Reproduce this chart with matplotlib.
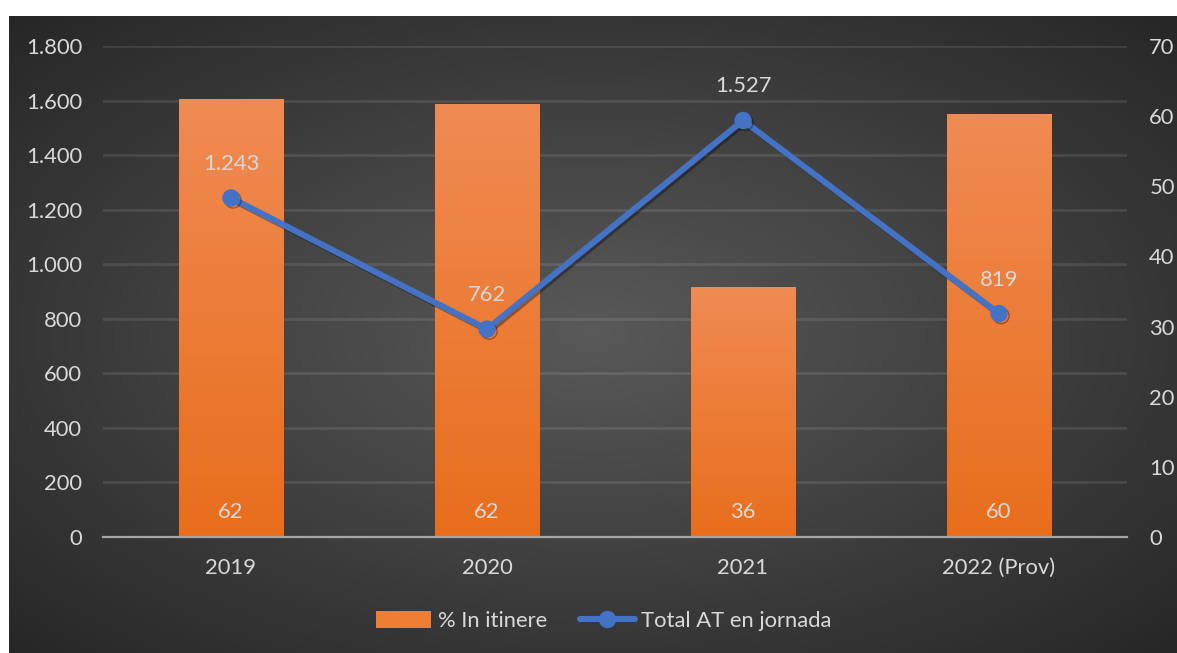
"""Combo chart: % in itinere (bars, right axis) + total AT en jornada (line, left axis)."""
import numpy as np
import matplotlib
matplotlib.use("Agg")
import matplotlib.pyplot as plt
import matplotlib.patheffects as pe
from matplotlib.lines import Line2D
from matplotlib.patches import Patch

FS = 15.8
plt.rcParams.update({
    "font.family": ["Lato", "DejaVu Sans"],
    "font.size": FS,
})

# ---- data ----
years = ["2019", "2020", "2021", "2022 (Prov)"]
pct_itinere = [62.4, 61.7, 35.6, 60.3]
total_at = [1243, 762, 1527, 819]
left_ticks = [0, 200, 400, 600, 800, 1000, 1200, 1400, 1600, 1800]
right_ticks = [0, 10, 20, 30, 40, 50, 60, 70]

TXT = "#D9D9D9"
BLUE = "#4472C4"
W, H = 1177, 653


def fmt(v):
    return f"{v:,}".replace(",", ".")


fig = plt.figure(figsize=(W / 100, H / 100), dpi=100, facecolor="white")

# background panel with radial gradient
bg = fig.add_axes([9 / W, 0, 1 - 9 / W, 1 - 16 / H])
yy, xx = np.mgrid[0:1:300j, 0:1:500j]
r = np.sqrt(((xx - 0.5) / 0.75) ** 2 + ((yy - 0.5) / 0.75) ** 2)
r = np.clip(r / 0.95, 0, 1)
shade = 0.35 - (0.35 - 0.15) * r
bg.imshow(np.dstack([shade] * 3), extent=[0, 1, 0, 1], aspect="auto", origin="lower")
bg.set_axis_off()

# bars on the bottom axes (right scale)
ax = fig.add_axes([103 / W, 1 - 537 / H, (1127 - 103) / W, (537 - 46) / H])
ax.patch.set_visible(False)
ax2 = ax.twinx()
ax2.patch.set_visible(False)

x = np.arange(len(years))
bw = 0.41
grad = np.linspace(0, 1, 256).reshape(-1, 1)
c_bot = np.array([0xE8, 0x6E, 0x1C]) / 255
c_top = np.array([0xF0, 0x8B, 0x53]) / 255
img = c_bot + grad[..., None] * (c_top - c_bot)
img = img.reshape(256, 1, 3)

for i, v in enumerate(pct_itinere):
    ax.imshow(img, extent=[x[i] - bw / 2, x[i] + bw / 2, 0, v],
              aspect="auto", origin="lower", zorder=2)
    ax.annotate(f"{v:.0f}", (x[i], 0), xytext=(0, 18), textcoords="offset points",
                ha="center", va="center", color=TXT, fontsize=FS, zorder=3)

for g in left_ticks[1:]:
    ax.axhline(g / left_ticks[-1] * right_ticks[-1], color="white",
               alpha=0.1, lw=2, zorder=1)

ax.set_xlim(-0.5, len(years) - 0.5)
ax.set_ylim(0, right_ticks[-1])
ax.set_yticks(right_ticks)
ax.yaxis.tick_right()
ax.set_xticks(x)
ax.set_xticklabels(years)
ax.tick_params(axis="x", length=0, pad=15, colors=TXT)
ax.tick_params(axis="y", length=0, pad=16, colors=TXT)
for s in ["top", "left", "right"]:
    ax.spines[s].set_visible(False)
ax.spines["bottom"].set_color("#A6A6A6")
ax.spines["bottom"].set_linewidth(1.6)
ax.spines["bottom"].set_zorder(4)

# line on the twin axes (left scale)
ax2.plot(x, total_at, color=BLUE, lw=4.4, marker="o", ms=11.5,
         solid_capstyle="round", zorder=5,
         path_effects=[pe.SimpleLineShadow(offset=(1.5, -1.5), alpha=0.35),
                       pe.Normal()])
for i, v in enumerate(total_at):
    ax2.annotate(fmt(v), (x[i], v), xytext=(0, 24.5), textcoords="offset points",
                 ha="center", va="center", color=TXT, fontsize=FS)
ax2.set_ylim(0, left_ticks[-1])
ax2.set_yticks(left_ticks)
ax2.set_yticklabels([fmt(t) for t in left_ticks])
ax2.yaxis.tick_left()
ax2.tick_params(axis="y", length=0, pad=15, colors=TXT)
for s in ax2.spines.values():
    s.set_visible(False)

handles = [
    Patch(facecolor="#F07E32", edgecolor="none", label="% In itinere"),
    Line2D([], [], color=BLUE, lw=4.4, marker="o", ms=11.5,
           solid_capstyle="round", label="Total AT en jornada"),
]
fig.legend(handles=handles, loc="center", bbox_to_anchor=(604 / W, 1 - 621 / H),
           ncol=2, frameon=False, labelcolor=TXT, fontsize=FS,
           handlelength=2.5, handleheight=0.8, handletextpad=0.3,
           columnspacing=1.5)

fig.savefig("out.png", dpi=100, facecolor="white")
plt.close(fig)
